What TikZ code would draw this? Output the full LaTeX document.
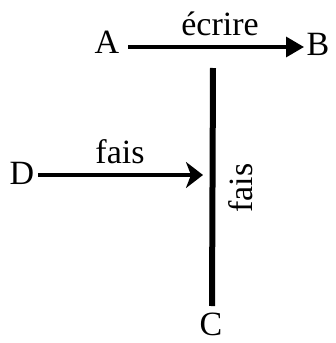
\documentclass[tikz,border=0pt]{standalone}
\usepackage{fontspec}
\setmainfont{Liberation Serif}
\usetikzlibrary{arrows.meta}
\begin{document}
\begin{tikzpicture}[x=1pt,y=-1pt,
  lbl/.style={font=\fontsize{34}{38}\selectfont, inner sep=0pt},
  conn/.style={line width=3.4pt},
  bar/.style={line width=6pt}]
\useasboundingbox (0,0) rectangle (336,343);
\node[lbl] (A) at (107,42) {A};
\node[lbl] (B) at (318,44) {B};
\node[lbl] (C) at (211,324) {C};
\node[lbl] (D) at (22,173) {D};
\coordinate (top) at (213,68);
\coordinate (bot) at (212,306);
\coordinate (hit) at (203,175);
\coordinate (ab0) at (128,47);
\coordinate (ab1) at (304,47);
\coordinate (d0) at (38,175);
\draw[conn,-{Triangle[length=18pt,width=20pt]}] (ab0) -- (ab1);
\node[lbl,anchor=base] (ecr) at (220,35) {écrire};
\draw[bar] (top) -- (bot);
\draw[conn,-{Stealth[length=17pt,width=26pt,inset=5pt]}] (d0) -- (hit);
\node[lbl,anchor=base] (f1) at (120,163) {fais};
\node[lbl,rotate=90,anchor=base] (f2) at (252,188) {fais};
\end{tikzpicture}
\end{document}
